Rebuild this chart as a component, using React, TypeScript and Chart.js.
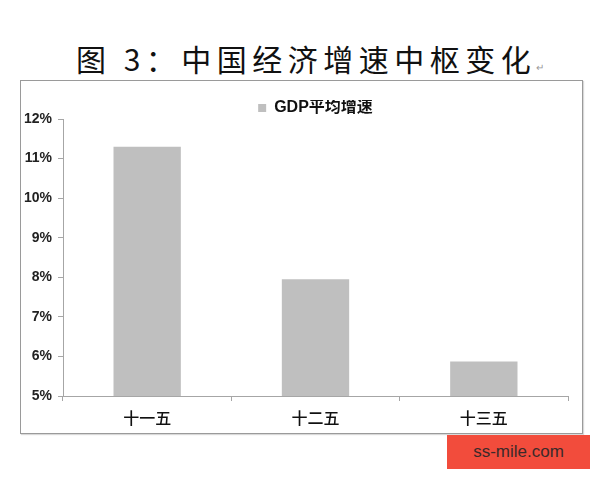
import { useEffect, useRef } from "react"
import { Chart, registerables } from "chart.js"

Chart.register(...registerables)

// five-year plan periods and the average GDP growth (%)
const periods = ["十一五", "十二五", "十三五"]
const gdpGrowth = [11.3, 7.95, 5.87]
const seriesName = "GDP平均增速"
const yMin = 5
const yMax = 12
const yStep = 1

const titleText = "图 3：中国经济增速中枢变化"
const watermark = "ss-mile.com"

const SANS = "'Liberation Sans', 'Noto Sans CJK SC', sans-serif"
const CJK = "'Noto Sans CJK SC', sans-serif"

function GrowthChart() {
  const canvasRef = useRef<HTMLCanvasElement | null>(null)
  const chartRef = useRef<Chart | null>(null)

  useEffect(() => {
    if (!canvasRef.current) return
    chartRef.current?.destroy()
    chartRef.current = new Chart(canvasRef.current, {
      type: "bar",
      data: {
        labels: periods,
        datasets: [
          {
            label: seriesName,
            data: gdpGrowth,
            backgroundColor: "#bfbfbf",
            borderWidth: 0,
            barPercentage: 0.4,
            categoryPercentage: 1,
          },
        ],
      },
      options: {
        animation: false,
        responsive: true,
        maintainAspectRatio: false,
        layout: { padding: { top: 19, left: 0, right: 14, bottom: 0 } },
        plugins: {
          tooltip: { enabled: false },
          legend: {
            position: "top",
            fullSize: false,
            maxHeight: 19,
            labels: {
              boxWidth: 8,
              boxHeight: 8,
              padding: 0,
              color: "#111",
              font: { family: SANS, size: 16, weight: "bold" },
            },
          },
        },
        scales: {
          x: {
            offset: true,
            afterFit: (scale) => {
              scale.height = 37
            },
            border: { display: true, color: "#a6a6a6", width: 1 },
            grid: {
              offset: true,
              drawOnChartArea: false,
              drawTicks: true,
              tickLength: 5,
              color: "#a6a6a6",
            },
            ticks: {
              padding: 7,
              color: "#111",
              font: { family: CJK, size: 16, weight: 500 },
            },
          },
          y: {
            min: yMin,
            max: yMax,
            afterFit: (scale) => {
              scale.width = 42
            },
            border: { display: true, color: "#a6a6a6", width: 1 },
            grid: {
              drawOnChartArea: false,
              drawTicks: true,
              tickLength: 5,
              color: "#a6a6a6",
            },
            ticks: {
              stepSize: yStep,
              padding: 6,
              color: "#222",
              font: { family: SANS, size: 14, weight: "bold" },
              callback: (v) => `${v}%`,
            },
          },
        },
      },
    })
    return () => {
      chartRef.current?.destroy()
      chartRef.current = null
    }
  }, [])

  return (
    <div
      style={{
        position: "absolute",
        left: 20,
        top: 80,
        width: 561,
        height: 352,
        border: "1px solid #9a9a9a",
        boxShadow: "1px 1px 1px rgba(0,0,0,0.15)",
        background: "#fff",
      }}
    >
      <canvas ref={canvasRef} />
    </div>
  )
}

export default function App() {
  return (
    <div
      style={{
        position: "fixed",
        left: 0,
        top: 0,
        width: 600,
        height: 480,
        background: "#fff",
        overflow: "hidden",
      }}
    >
      <div
        style={{
          position: "absolute",
          left: 76,
          top: 43,
          height: 30,
          lineHeight: "30px",
          fontFamily: CJK,
          fontSize: 30,
          fontWeight: 400,
          letterSpacing: 5.5,
          color: "#111",
          whiteSpace: "nowrap",
        }}
      >
        {titleText}
        <span style={{ fontSize: 10, color: "#999", letterSpacing: 0 }}>↵</span>
      </div>
      <GrowthChart />
      <div
        style={{
          position: "absolute",
          left: 447,
          top: 435,
          width: 143,
          height: 34,
          background: "#f24c3c",
          color: "#3a2a2a",
          fontFamily: "'Liberation Sans', Arial, sans-serif",
          fontSize: 17,
          lineHeight: "34px",
          textAlign: "center",
        }}
      >
        {watermark}
      </div>
    </div>
  )
}
